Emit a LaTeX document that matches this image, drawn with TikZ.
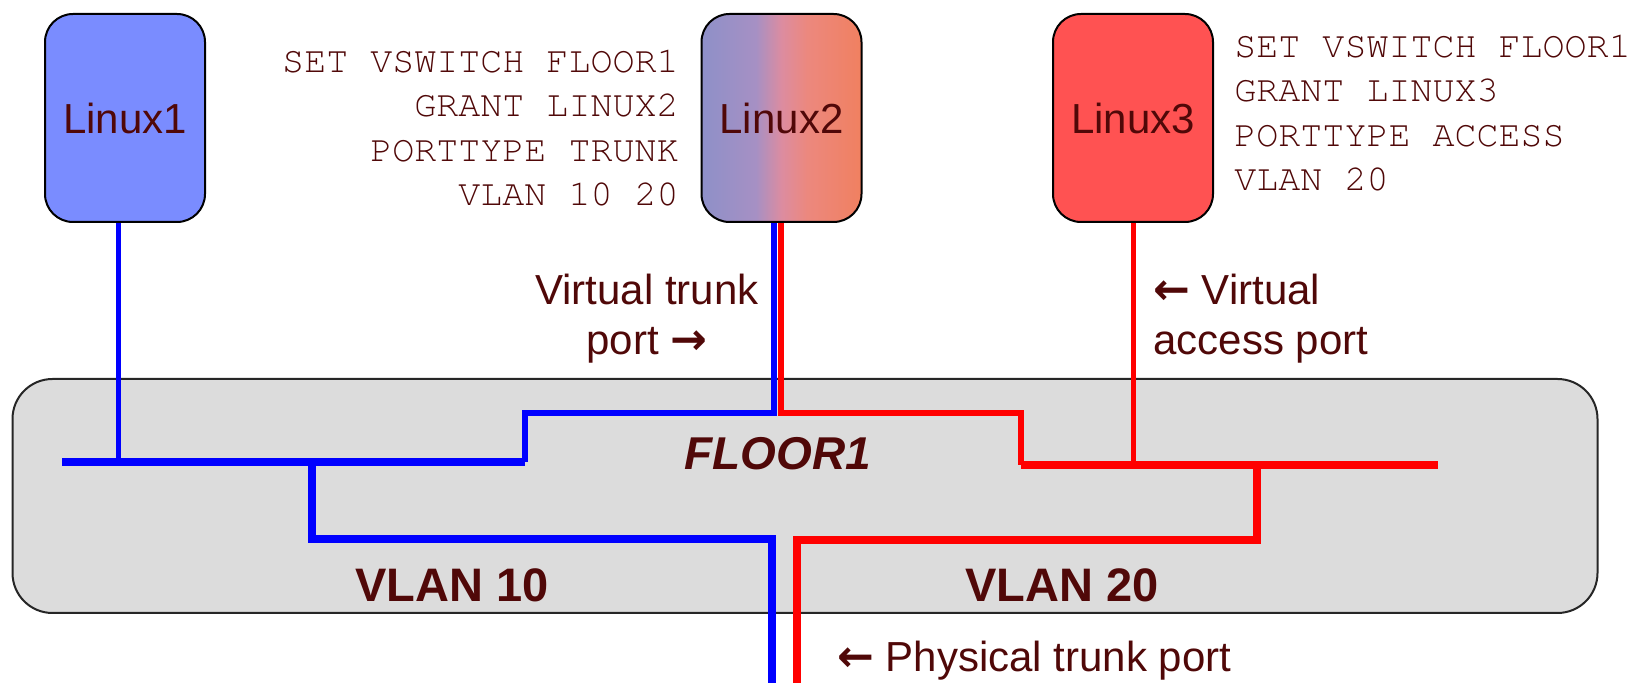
\documentclass[tikz,border=0pt]{standalone}
\usepackage{fontspec}
\setmainfont{Liberation Sans}
\newfontfamily\courfont{TeX Gyre Cursor}
\newfontfamily\arrowfont{DejaVu Sans}
\newcommand{\arr}[1]{{\arrowfont\bfseries\fontsize{22}{25}\selectfont #1}}
\definecolor{txt}{RGB}{80,8,8}
\definecolor{hostA}{RGB}{122,140,255}
\definecolor{hostC}{RGB}{255,82,82}
\definecolor{gradL}{RGB}{142,144,200}
\definecolor{gradP}{RGB}{166,144,196}
\definecolor{gradM}{RGB}{220,140,160}
\definecolor{gradS}{RGB}{236,136,126}
\definecolor{gradR}{RGB}{240,128,96}
\definecolor{floorfill}{RGB}{220,220,220}
\pgfdeclarehorizontalshading{linuxtwo}{100bp}{color(0bp)=(gradL); color(25bp)=(gradL);
  color(42bp)=(gradP); color(50bp)=(gradM); color(58bp)=(gradS); color(75bp)=(gradR); color(100bp)=(gradR)}
\begin{document}
\begin{tikzpicture}[x=0.5pt,y=-0.5pt,
  host/.style={draw=black, line width=1pt, rounded corners=14pt, minimum width=80pt,
    minimum height=104pt, inner sep=0pt, text=txt, font=\fontsize{21}{25}\selectfont},
  floorbox/.style={draw=black!85, line width=1pt, fill=floorfill, rounded corners=20pt,
    minimum width=792.5pt, minimum height=117pt, inner sep=0pt},
  cmd/.style={text=txt, font=\courfont\fontsize{18.35}{22.3}\selectfont, inner sep=0pt},
  lbl/.style={text=txt, font=\fontsize{21}{25}\selectfont, inner sep=0pt},
  vlan/.style={text=txt, font=\bfseries\fontsize{23.5}{26}\selectfont, inner sep=0pt},
  swname/.style={text=txt, font=\bfseries\itshape\fontsize{23}{26}\selectfont, inner sep=0pt},
  bthin/.style={draw=blue, line width=2.5pt},
  bmid/.style={draw=blue, line width=2.8pt},
  bthick/.style={draw=blue, line width=3.6pt},
  rthin/.style={draw=red, line width=2.5pt},
  rmid/.style={draw=red, line width=2.8pt},
  rthick/.style={draw=red, line width=3.6pt},
]
\useasboundingbox (0,0) rectangle (1634,683);

\node[floorbox] (fl) at (805,496) {};

\node[host, fill=hostA] (L1) at (125,118) {Linux1};
\node[host, shading=linuxtwo] (L2) at (781.5,118) {Linux2};
\node[host, fill=hostC] (L3) at (1133,118) {Linux3};

% junction coordinates
\coordinate (j1) at (118,462);
\coordinate (bw) at (62,462);
\coordinate (bs) at (525,462);
\coordinate (bt) at (525,413);
\coordinate (b2) at (774,413);
\coordinate (jb) at (312,462);
\coordinate (bb1) at (312,539);
\coordinate (bb2) at (772,539);
\coordinate (bout) at (772,700);
\coordinate (r2) at (781,413);
\coordinate (rt) at (1021,413);
\coordinate (rs) at (1021,465);
\coordinate (re) at (1438,465);
\coordinate (j3) at (1133,465);
\coordinate (jr) at (1257,465);
\coordinate (rb1) at (1257,540);
\coordinate (rb2) at (797,540);
\coordinate (rout) at (797,700);

% VLAN 10 (blue)
\draw[bthin] (L1.south -| j1) -- (j1);
\draw[bthick] (bw) -- (bs);
\draw[bmid] (bs) -- (bt) -- (b2) -- (L2.south -| b2);
\draw[bthick] (jb) -- (bb1) -- (bb2) -- (bout);
% VLAN 20 (red)
\draw[rmid] (L2.south -| r2) -- (r2) -- (rt) -- (rs);
\draw[rthick] (rs) -- (re);
\draw[rthin] (L3.south -| j3) -- (j3);
\draw[rthick] (jr) -- (rb1) -- (rb2) -- (rout);

% texts (base anchor = baseline of the last line)
\node[cmd, anchor=base east, align=right] (c2) at (679,206)
  {SET VSWITCH FLOOR1\\GRANT LINUX2\\PORTTYPE TRUNK\\VLAN 10 20};
\node[cmd, anchor=base west, align=left] (c3) at (1234,191)
  {SET VSWITCH FLOOR1\\GRANT LINUX3\\PORTTYPE ACCESS\\VLAN 20};
\node[lbl, anchor=base, align=center] (vt) at (647,355) {Virtual trunk\\port \arr{→}};
\node[lbl, anchor=base west, align=left] (va) at (1153,355) {\arr{←} Virtual\\access port};
\node[swname, anchor=base] (fn) at (778,470) {FLOOR1};
\node[vlan, anchor=base] (v10) at (452,602) {VLAN 10};
\node[vlan, anchor=base] (v20) at (1062,602) {VLAN 20};
\node[lbl, anchor=base west] (pt) at (837,672) {\arr{←} Physical trunk port};
\end{tikzpicture}
\end{document}
